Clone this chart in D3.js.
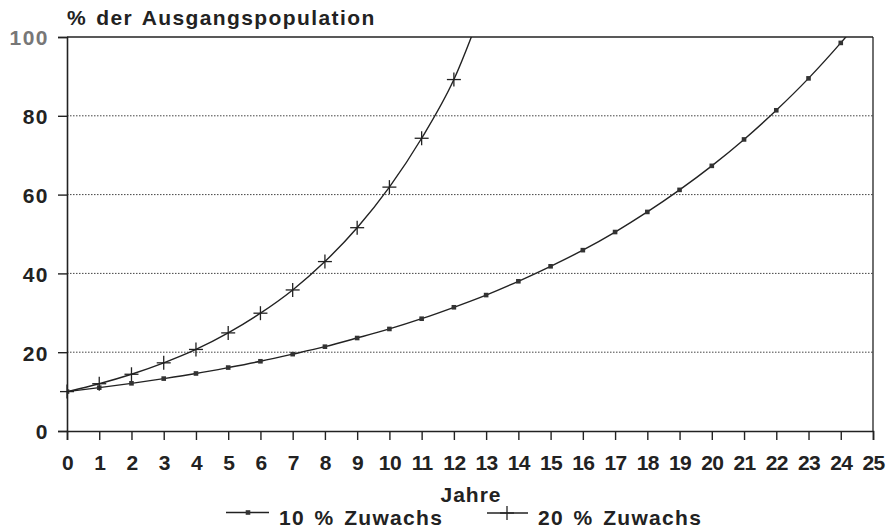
<!DOCTYPE html>
<html><head><meta charset="utf-8">
<script src="https://cdn.jsdelivr.net/npm/d3@7"></script>
<style>
body{margin:0;background:#fff;}
svg text{font-family:"Liberation Sans",Arial,sans-serif;fill:#222;}
</style></head>
<body><svg id="c" width="889" height="531"></svg>
<script>
const years = [0,1,2,3,4,5,6,7,8,9,10,11,12,13,14,15,16,17,18,19,20,21,22,23,24,25];
const growth10 = [10,11,12.1,13.3,14.6,16.1,17.7,19.5,21.4,23.6,25.9,28.5,31.4,34.5,38.0,41.8,45.9,50.5,55.6,61.2,67.3,74.0,81.4,89.5,98.5,108.3];
const growth20 = [10,12,14.4,17.3,20.7,24.9,29.9,35.8,43.0,51.6,61.9,74.3,89.2,110.0];
const markers10 = 25; // markers drawn for years 0..24 (point 25 off chart)
const markers20 = 13;
const yTicks = [0,20,40,60,80,100];
const xTicks = years;
const seriesNames = ["10 % Zuwachs","20 % Zuwachs"];

const svg = d3.select("#c");
const m = {l:67, r:16, t:37, b:100};
const W = 889, H = 531;
const x = d3.scaleLinear().domain([0,25]).range([m.l, W-m.r]);
const y = d3.scaleLinear().domain([0,100]).range([H-m.b, m.t]);

svg.append("defs").append("clipPath").attr("id","clip")
  .append("rect").attr("x",x(0)).attr("y",y(100)).attr("width",x(25)-x(0)).attr("height",y(0)-y(100));

// gridlines
svg.append("g").selectAll("line").data(yTicks.filter(d=>d>0&&d<100)).join("line")
  .attr("x1",x(0)).attr("x2",x(25)).attr("y1",d=>y(d)).attr("y2",d=>y(d))
  .attr("stroke","#444").attr("stroke-width",1).attr("stroke-dasharray","1.5,1.5");
// top and right border
svg.append("line").attr("x1",x(0)).attr("x2",x(25)).attr("y1",y(100)).attr("y2",y(100)).attr("stroke","#222").attr("stroke-width",1.6);
svg.append("line").attr("x1",x(25)).attr("x2",x(25)).attr("y1",y(100)).attr("y2",y(0)).attr("stroke","#222").attr("stroke-width",1.3);

const fontCommon = sel => sel.style("font-size","21px").style("font-weight","bold");

// axes
const yAxis = svg.append("g").attr("transform",`translate(${x(0)},0)`)
  .call(d3.axisLeft(y).tickValues(yTicks).tickSize(9).tickPadding(9));
yAxis.select(".domain").attr("stroke","#222").attr("stroke-width",1.6);
yAxis.selectAll(".tick line").attr("stroke","#222").attr("stroke-width",1.4);
yAxis.selectAll(".tick text").call(fontCommon).attr("letter-spacing","1.5px")
  .style("fill",d=>d===100?"#777":"#222").attr("dy","0.38em");

const xAxis = svg.append("g").attr("transform",`translate(0,${y(0)})`)
  .call(d3.axisBottom(x).tickValues(xTicks).tickSize(9).tickPadding(15).tickFormat(d3.format("d")));
xAxis.select(".domain").attr("stroke","#222").attr("stroke-width",1.6);
xAxis.selectAll(".tick line").attr("stroke","#222").attr("stroke-width",1.4);
xAxis.selectAll(".tick text").call(fontCommon).attr("letter-spacing","-0.6px");

// titles
svg.append("text").attr("x",67).attr("y",25).text("% der Ausgangspopulation")
  .call(fontCommon).attr("letter-spacing","1.4px").attr("word-spacing","2px");
svg.append("text").attr("x",471).attr("y",502).attr("text-anchor","middle").text("Jahre")
  .call(fontCommon).attr("letter-spacing","1px");

// lines
const line = d3.line().x((d,i)=>x(years[i])).y(d=>y(d)).curve(d3.curveMonotoneX);
const plot = svg.append("g").attr("clip-path","url(#clip)");
plot.append("path").attr("d",line(growth10)).attr("fill","none").attr("stroke","#222").attr("stroke-width",1.4);
plot.append("path").attr("d",line(growth20)).attr("fill","none").attr("stroke","#222").attr("stroke-width",1.4);

// markers
function square(g,cx,cy){g.append("rect").attr("x",cx-2.3).attr("y",cy-2.3).attr("width",4.6).attr("height",4.6).attr("fill","#333");}
function plus(g,cx,cy){
  g.append("line").attr("x1",cx-7).attr("x2",cx+7).attr("y1",cy).attr("y2",cy).attr("stroke","#222").attr("stroke-width",1.3);
  g.append("line").attr("x1",cx).attr("x2",cx).attr("y1",cy-7).attr("y2",cy+7).attr("stroke","#222").attr("stroke-width",1.3);
}
growth10.slice(0,markers10).forEach((v,i)=>square(plot,x(years[i]),y(v)));
growth20.slice(0,markers20).forEach((v,i)=>plus(svg,x(years[i]),y(v)));

// legend
const lg = svg.append("g");
lg.append("line").attr("x1",226).attr("x2",269).attr("y1",512.5).attr("y2",512.5).attr("stroke","#222").attr("stroke-width",1.3);
square(lg,248,512.5);
lg.append("text").attr("x",279).attr("y",525).text(seriesNames[0]).call(fontCommon).attr("letter-spacing","1.3px").attr("word-spacing","2.5px");
lg.append("line").attr("x1",487).attr("x2",528).attr("y1",513).attr("y2",513).attr("stroke","#222").attr("stroke-width",1.3);
plus(lg,507,513);
lg.append("text").attr("x",538).attr("y",525).text(seriesNames[1]).call(fontCommon).attr("letter-spacing","1.3px").attr("word-spacing","2.5px");
</script></body></html>
